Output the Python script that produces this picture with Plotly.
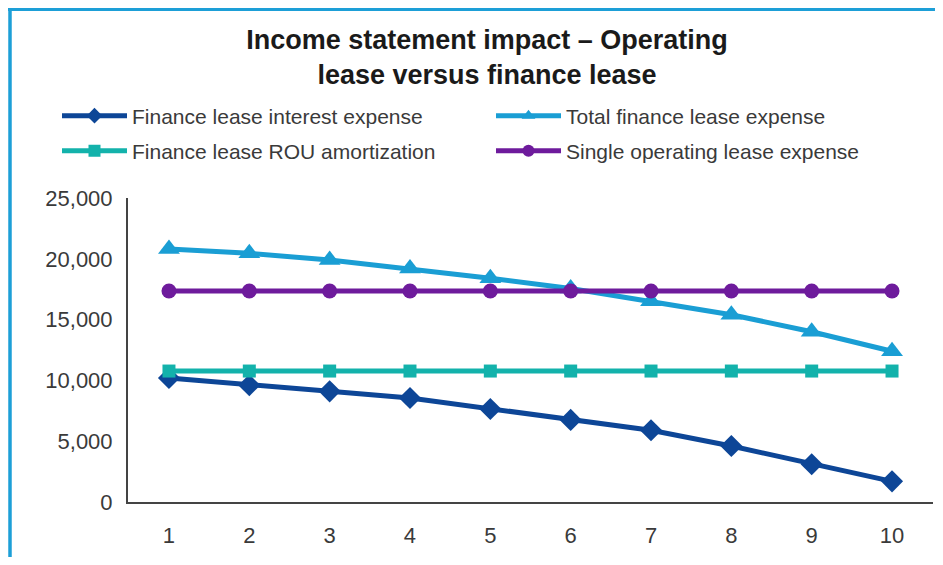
import plotly.graph_objects as go

years = [1, 2, 3, 4, 5, 6, 7, 8, 9, 10]
interest_expense = [10200, 9600, 9100, 8550, 7650, 6750, 5900, 4600, 3100, 1700]
total_finance = [20800, 20450, 19900, 19200, 18400, 17550, 16500, 15400, 14000, 12400]
rou_amortization = [10770, 10770, 10770, 10770, 10770, 10770, 10770, 10770, 10770, 10770]
operating_expense = [17350, 17350, 17350, 17350, 17350, 17350, 17350, 17350, 17350, 17350]
y_ticks = [0, 5000, 10000, 15000, 20000, 25000]
y_tick_labels = ["0", "5,000", "10,000", "15,000", "20,000", "25,000"]

C_INT = "#0d4697"
C_TOT = "#1a9ed4"
C_ROU = "#13b2ab"
C_OPE = "#6e1b9c"
BORDER = "#1d9fd7"
FONT = "Liberation Sans, Arial"

fig = go.Figure()
fig.add_trace(go.Scatter(x=years, y=interest_expense, name="Finance lease interest expense",
                         mode="lines+markers", line=dict(color=C_INT, width=5),
                         marker=dict(symbol="diamond", size=17, color=C_INT),
                         legend="legend", showlegend=True))
fig.add_trace(go.Scatter(x=years, y=total_finance, name="Total finance lease expense",
                         mode="lines+markers", line=dict(color=C_TOT, width=5),
                         marker=dict(symbol="triangle-up", size=19, color=C_TOT),
                         legend="legend2", showlegend=True))
fig.add_trace(go.Scatter(x=years, y=rou_amortization, name="Finance lease ROU amortization",
                         mode="lines+markers", line=dict(color=C_ROU, width=5),
                         marker=dict(symbol="square", size=13, color=C_ROU),
                         legend="legend3", showlegend=True))
fig.add_trace(go.Scatter(x=years, y=operating_expense, name="Single operating lease expense",
                         mode="lines+markers", line=dict(color=C_OPE, width=5),
                         marker=dict(symbol="circle", size=15, color=C_OPE),
                         legend="legend4", showlegend=True))

# page body adds an 8px offset; figure coordinates below are in figure pixels
W, H = 927, 549
L, R, T, B = 120, 2, 190, 55
pw, ph = W - L - R, H - T - B

def px(x):
    return (x - L) / pw

def py(y):
    return (H - B - y) / ph

def leg(xpix, ypix):
    return dict(orientation="h", xref="paper", yref="paper", x=px(xpix), y=py(ypix),
                xanchor="left", yanchor="middle", itemwidth=65, visible=True,
                itemsizing="constant", font=dict(family=FONT, size=21, color="#3a3a3a"),
                bgcolor="rgba(0,0,0,0)")

fig.update_layout(
    width=W, height=H,
    showlegend=True,
    margin=dict(l=L, r=R, t=T, b=B, autoexpand=False),
    paper_bgcolor="white", plot_bgcolor="white",
    title=dict(text="<b>Income statement impact – Operating<br>lease versus finance lease</b>",
               x=479 / W, xanchor="center", y=1 - 40.5 / H, yanchor="middle", yref="container",
               font=dict(family=FONT, size=27, color="#1a1a1a")),
    legend=leg(49, 108),
    legend2=leg(483, 108),
    legend3=leg(49, 143),
    legend4=leg(483, 143),
    xaxis=dict(range=[0.49, 10.51], tickvals=years, showgrid=False, zeroline=False,
               showline=True, linecolor="#444444", linewidth=2, ticks="",
               ticklabelstandoff=13,
               tickfont=dict(family=FONT, size=22, color="#3a3a3a")),
    yaxis=dict(range=[0, 25000], tickvals=y_ticks, ticktext=y_tick_labels, showgrid=False,
               zeroline=False, showline=True, linecolor="#444444", linewidth=2, ticks="",
               ticklabelstandoff=9,
               tickfont=dict(family=FONT, size=22, color="#3a3a3a")),
    shapes=[
        dict(type="line", xref="paper", yref="paper", x0=px(0), x1=px(W), y0=py(1.5), y1=py(1.5),
             line=dict(color=BORDER, width=3), layer="above"),
        dict(type="line", xref="paper", yref="paper", x0=px(2), x1=px(2), y0=py(0), y1=py(H),
             line=dict(color=BORDER, width=3.5), layer="above"),
    ],
)

fig.write_html("out.html")
